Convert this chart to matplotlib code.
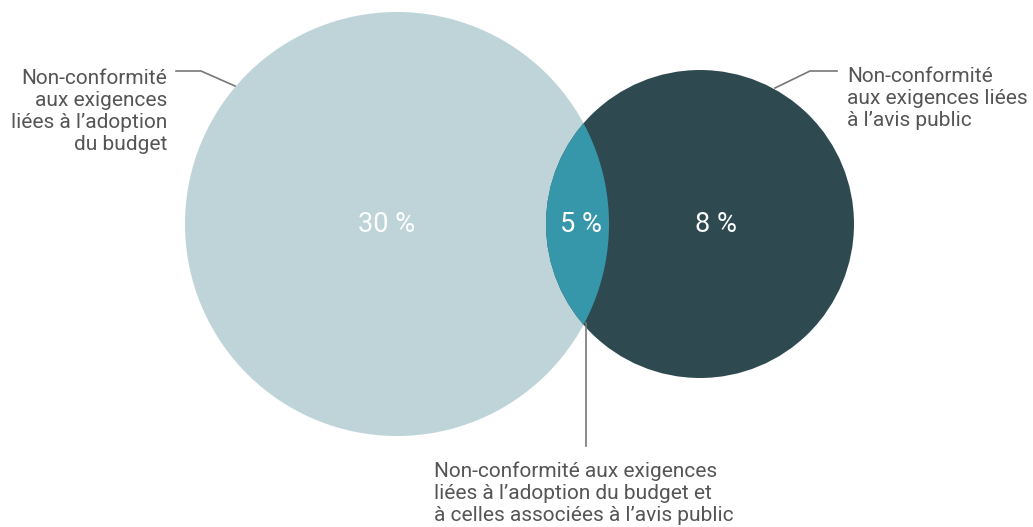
import matplotlib.pyplot as plt
from matplotlib.patches import Circle

plt.rcParams['font.family'] = ['Roboto', 'DejaVu Sans']

# data
sets = ['budget', 'avis']
only_pct = [30, 8]
both_pct = 5
set_labels = [
    'Non-conformité\naux exigences\nliées à l\u2019adoption\ndu budget',
    'Non-conformité\naux exigences liées\nà l\u2019avis public',
]
both_label = ('Non-conformité aux exigences\nliées à l\u2019adoption du budget et\n'
              'à celles associées à l\u2019avis public')

colors = ['#bed4d9', '#2e4a50']
both_color = '#3797aa'
text_color = '#555555'
line_color = '#777777'

fig = plt.figure(figsize=(10.33, 5.27), dpi=100)
ax = fig.add_axes([0, 0, 1, 1])
ax.set_xlim(0, 1033)
ax.set_ylim(527, 0)
ax.set_aspect('equal')
ax.axis('off')

# circles (pixel layout)
centers = [(397, 224), (700, 224)]
radii = [212, 154]

c_left = Circle(centers[0], radii[0], color=colors[0], lw=0)
c_right = Circle(centers[1], radii[1], color=colors[1], lw=0)
ax.add_patch(c_left)
ax.add_patch(c_right)
lens = Circle(centers[1], radii[1], color=both_color, lw=0)
ax.add_patch(lens)
lens.set_clip_path(c_left)

pct_fmt = '{} %'
ax.text(387, 224, pct_fmt.format(only_pct[0]), color='white', fontsize=19.5,
        ha='center', va='center')
ax.text(581, 224, pct_fmt.format(both_pct), color='white', fontsize=19.5,
        ha='center', va='center')
ax.text(716, 224, pct_fmt.format(only_pct[1]), color='white', fontsize=19.5,
        ha='center', va='center')

# labels
fs = 15
ax.text(167, 111, set_labels[0], color=text_color, fontsize=fs, ha='right',
        va='center', linespacing=1.2)
ax.text(847, 99, set_labels[1], color=text_color, fontsize=fs, ha='left',
        va='center', linespacing=1.2)
ax.text(434, 493, both_label, color=text_color, fontsize=fs, ha='left',
        va='center', linespacing=1.2)

# leader lines
ax.plot([176, 201, 235], [71, 71, 86], color=line_color, lw=1.2)
ax.plot([837, 810, 775], [71, 71, 88], color=line_color, lw=1.2)
ax.plot([586, 586], [323, 446], color=line_color, lw=1.2)

fig.savefig('out.png', dpi=100)
